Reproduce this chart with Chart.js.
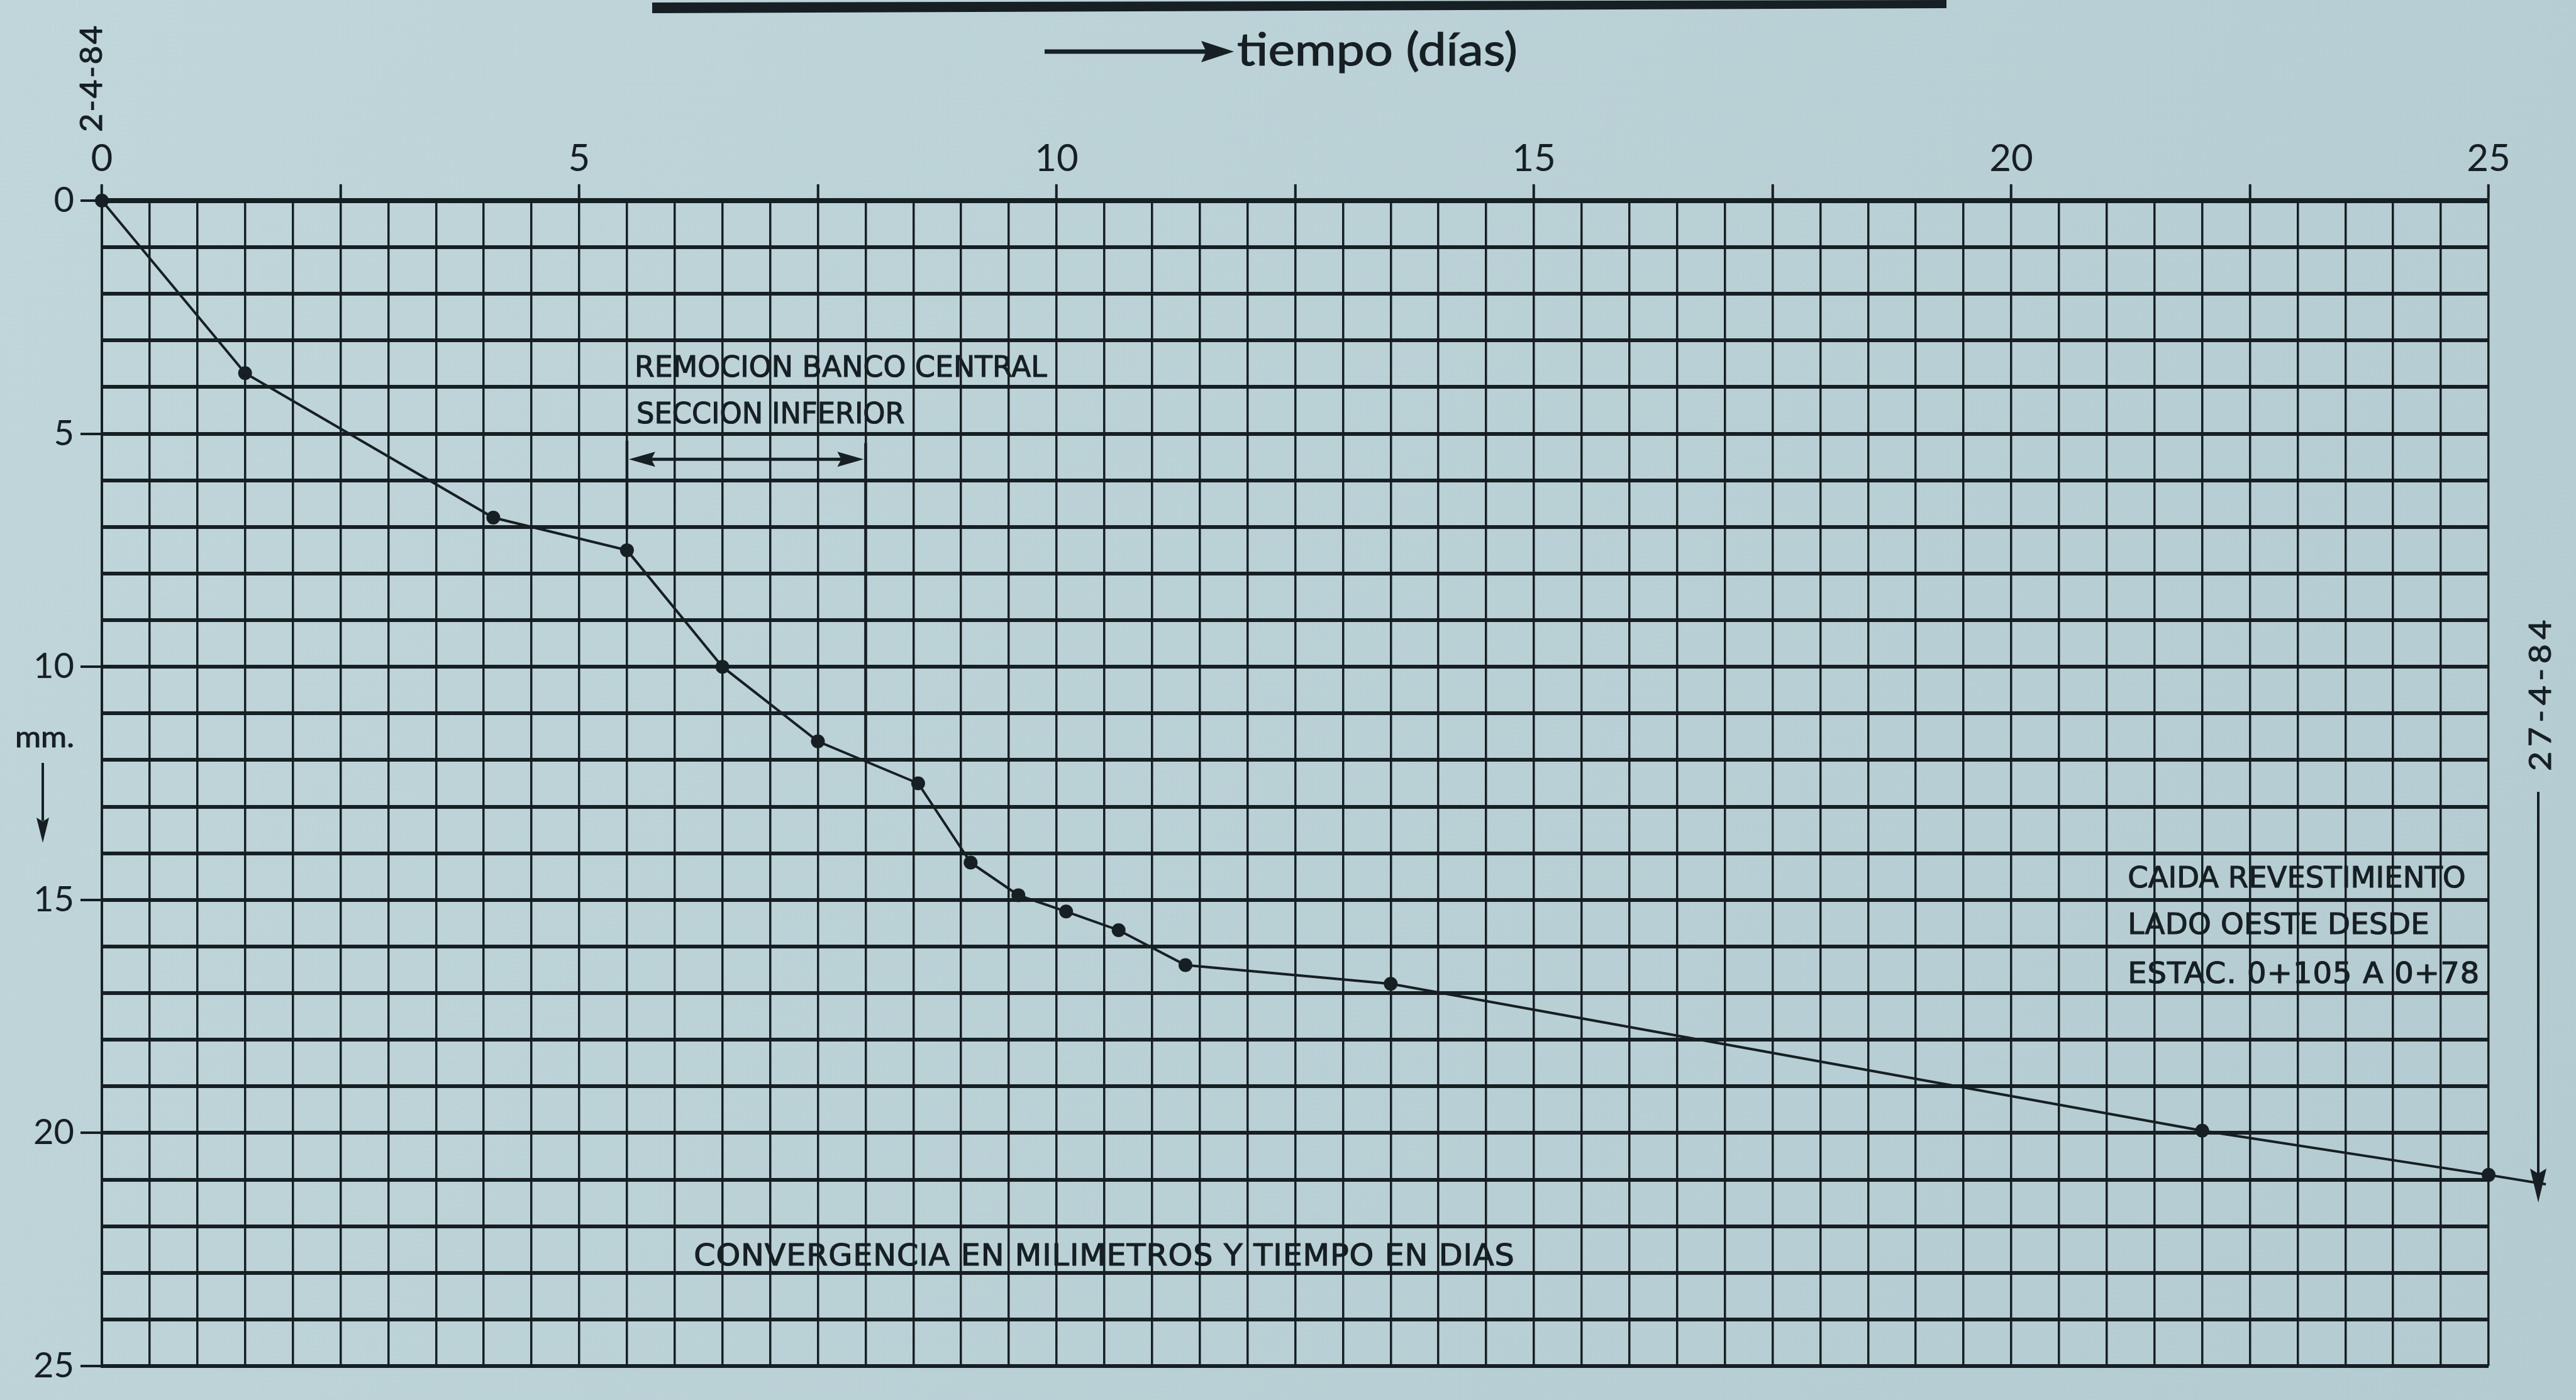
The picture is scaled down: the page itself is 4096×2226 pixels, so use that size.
<!DOCTYPE html>
<html>
<head>
<meta charset="utf-8">
<script src="https://cdn.jsdelivr.net/npm/chart.js@4.4.1/dist/chart.umd.min.js"></script>
<style>
html,body{margin:0;padding:0;background:#bad1d7;overflow:hidden}
canvas{display:block}
</style>
</head>
<body>
<canvas id="c" width="4096" height="2226" style="width:4096px;height:2226px"></canvas>
<script>
// ---------- data ----------
const days          = [0, 1.5, 4.1, 5.5, 6.5, 7.5, 8.55, 9.1, 9.6, 10.1, 10.65, 11.35, 13.5, 22.0, 25.0];
const convergenceMm = [0, 3.7, 6.8, 7.5, 10.0, 11.6, 12.5, 14.2, 14.9, 15.25, 15.65, 16.4, 16.8, 19.95, 20.9];
const extensionDays = [25.0, 25.6];
const extensionMm   = [20.9, 21.1];
const xTickValues = [0, 5, 10, 15, 20, 25];
const xTickLabels = ['0', '5', '10', '15', '20', '25'];
const yTickValues = [0, 5, 10, 15, 20, 25];
const yTickLabels = ['0', '5', '10', '15', '20', '25'];
const startDate = '2-4-84';
const endDate = '27-4-84';
const xTitle = 'tiempo (días)';
const yTitle = 'mm.';
const remocionNotes = ['REMOCION BANCO CENTRAL', 'SECCION INFERIOR'];
const remocionDays = [5.5, 8.0];
const caidaNotes = ['CAIDA REVESTIMIENTO', 'LADO OESTE DESDE', 'ESTAC. 0+105 A 0+78'];
const caption = 'CONVERGENCIA EN MILIMETROS Y TIEMPO EN DIAS';

// ---------- drawing ----------
const INK = '#161f23';
const LETTER = '"DejaVu Sans"';
const NUM = 'Lato';

function isMult(v, m) { return Math.abs(v / m - Math.round(v / m)) < 1e-6; }
function labelFor(v, vals, labs) { const k = vals.findIndex(t => Math.abs(t - v) < 1e-6); return k >= 0 ? labs[k] : ''; }
function interpMm(d) {
  for (let i = 0; i < days.length - 1; i++) {
    if (d >= days[i] && d <= days[i + 1]) {
      const t = (d - days[i]) / (days[i + 1] - days[i]);
      return convergenceMm[i] + t * (convergenceMm[i + 1] - convergenceMm[i]);
    }
  }
  return convergenceMm[convergenceMm.length - 1];
}
function fitText(c, text, x0, x1, yc, cap, family, stroke, spread) {
  const size = cap / 0.73;
  const target = x1 - x0;
  c.save();
  c.font = size + 'px ' + family;
  if ('letterSpacing' in c) c.letterSpacing = '0px';
  const w0 = c.measureText(text).width;
  let w = w0;
  if ('letterSpacing' in c && target > w0) {
    const ls = (spread === undefined ? 0.5 : spread) * (target - w0) / Math.max(1, text.length - 1);
    c.letterSpacing = ls.toFixed(2) + 'px';
    w = c.measureText(text).width;
  }
  c.translate(x0, yc + cap / 2);
  c.scale(target / w, 1);
  c.textAlign = 'left';
  c.textBaseline = 'alphabetic';
  c.fillText(text, 0, 0);
  if (stroke) { c.lineWidth = stroke; c.lineJoin = 'round'; c.strokeText(text, 0, 0); }
  c.restore();
}
function fitTextRot(c, text, cx, cy, len, cap, family, stroke, spread) {
  c.save();
  c.translate(cx, cy);
  c.rotate(-Math.PI / 2);
  fitText(c, text, -len / 2, len / 2, 0, cap, family, stroke, spread);
  c.restore();
}
function seg(c, x0, y0, x1, y1, w) {
  c.lineWidth = w; c.beginPath(); c.moveTo(x0, y0); c.lineTo(x1, y1); c.stroke();
}
function head(c, tx, ty, dx, dy, len, hw) {
  const px = -dy, py = dx;
  c.beginPath();
  c.moveTo(tx, ty);
  c.lineTo(tx - dx * len + px * hw, ty - dy * len + py * hw);
  c.lineTo(tx - dx * len * 0.85, ty - dy * len * 0.85);
  c.lineTo(tx - dx * len - px * hw, ty - dy * len - py * hw);
  c.closePath();
  c.fill();
}

const bgPlugin = {
  id: 'bg',
  beforeDraw(chart) {
    const c = chart.ctx;
    c.save();
    const g = c.createLinearGradient(0, 0, chart.width, chart.height);
    g.addColorStop(0, '#c0d6db');
    g.addColorStop(1, '#b4cbd1');
    c.fillStyle = g;
    c.fillRect(0, 0, chart.width, chart.height);
    c.restore();
  }
};

const notesPlugin = {
  id: 'notes',
  afterDatasetsDraw(chart) {
    const c = chart.ctx, xs = chart.scales.x, ys = chart.scales.y;
    const X = v => xs.getPixelForValue(v), Y = v => ys.getPixelForValue(v);
    c.save();
    c.fillStyle = INK; c.strokeStyle = INK; c.lineCap = 'butt';
    // removal annotation
    fitText(c, remocionNotes[0], X(5.58), X(9.9), Y(3.55), 34, LETTER, 1.2);
    fitText(c, remocionNotes[1], X(5.6), X(8.41), Y(4.55), 34, LETTER, 1.2);
    const a0 = remocionDays[0], a1 = remocionDays[1];
    seg(c, X(a0), Y(5.15), X(a0), Y(7.05), 4.5);
    seg(c, X(a1), Y(5.2), X(a1), Y(interpMm(a1)), 4.5);
    seg(c, X(a0) + 20, Y(5.55), X(a1) - 20, Y(5.55), 5);
    head(c, X(a0) + 3, Y(5.55), -1, 0, 42, 12);
    head(c, X(a1) - 3, Y(5.55), 1, 0, 42, 12);
    // lining fall annotation
    fitText(c, caidaNotes[0], X(21.22), X(24.76), Y(14.5), 34, LETTER, 1.2);
    fitText(c, caidaNotes[1], X(21.22), X(24.38), Y(15.5), 34, LETTER, 1.2);
    fitText(c, caidaNotes[2], X(21.22), X(24.91), Y(16.55), 34, LETTER, 1.2);
    // caption
    fitText(c, caption, X(6.2), X(14.8), Y(22.6), 35, LETTER, 1.2);
    c.restore();
  },
  afterDraw(chart) {
    const c = chart.ctx;
    c.save();
    c.fillStyle = INK; c.strokeStyle = INK;
    // heavy bar at the top of the sheet
    c.beginPath();
    c.moveTo(1037, 4); c.lineTo(3095, 0); c.lineTo(3095, 13); c.lineTo(1037, 21);
    c.closePath(); c.fill();
    // x title with arrow
    seg(c, 1661, 82, 1925, 82, 7);
    head(c, 1962, 82, 1, 0, 52, 17);
    c.font = '72px ' + NUM;
    const tw = c.measureText(xTitle).width;
    c.save(); c.translate(1967, 104); c.scale(446 / tw, 1); c.textBaseline = 'alphabetic';
    c.fillText(xTitle, 0, 0); c.lineWidth = 1.2; c.strokeText(xTitle, 0, 0); c.restore();
    // start date (rotated)
    fitTextRot(c, startDate, 144, 124, 172, 36, NUM, 1, 0.6);
    // end date (rotated) + arrow down
    fitTextRot(c, endDate, 4038, 1102, 248, 36, NUM, 1, 0.6);
    seg(c, 4036, 1259, 4036, 1870, 4);
    head(c, 4036, 1912, 0, 1, 54, 13);
    // y title + arrow
    c.font = '46px ' + NUM;
    const mw = c.measureText(yTitle).width;
    c.save(); c.translate(24, 1188); c.scale(94 / mw, 1); c.textBaseline = 'alphabetic';
    c.fillText(yTitle, 0, 0); c.lineWidth = 1; c.strokeText(yTitle, 0, 0); c.restore();
    seg(c, 68, 1213, 68, 1305, 4);
    head(c, 68, 1340, 0, 1, 40, 10);
    c.restore();
  }
};

const chart = new Chart(document.getElementById('c'), {
  type: 'line',
  data: {
    datasets: [
      {
        label: 'Convergencia',
        data: days.map((d, i) => ({ x: d, y: convergenceMm[i] })),
        borderColor: INK, borderWidth: 4,
        pointRadius: 11, pointHoverRadius: 11,
        pointBackgroundColor: INK, pointBorderColor: INK, pointBorderWidth: 0,
        tension: 0, fill: false, clip: false
      },
      {
        label: 'Extensión',
        data: extensionDays.map((d, i) => ({ x: d, y: extensionMm[i] })),
        borderColor: INK, borderWidth: 4,
        pointRadius: 0, tension: 0, fill: false, clip: false
      }
    ]
  },
  options: {
    responsive: false,
    animation: false,
    devicePixelRatio: 1,
    layout: { padding: { left: 0, top: 0, right: 139, bottom: 54 } },
    plugins: { legend: { display: false }, tooltip: { enabled: false } },
    scales: {
      x: {
        type: 'linear', position: 'top', min: 0, max: 25,
        ticks: {
          stepSize: 0.5, autoSkip: false, maxRotation: 0, minRotation: 0,
          color: INK, padding: 4, font: { family: NUM, size: 60 },
          callback: v => labelFor(v, xTickValues, xTickLabels)
        },
        grid: {
          color: INK, lineWidth: 3.5, tickLength: 26, tickWidth: 4,
          tickColor: ctx => (ctx.tick && isMult(ctx.tick.value, 2.5)) ? INK : 'rgba(0,0,0,0)'
        },
        border: { display: true, color: INK, width: 8 },
        afterFit: s => { s.height = 319; }
      },
      y: {
        type: 'linear', position: 'left', reverse: true, min: 0, max: 25,
        ticks: {
          stepSize: 1, autoSkip: false, color: INK, padding: 10,
          font: { family: NUM, size: 56 },
          callback: v => labelFor(v, yTickValues, yTickLabels)
        },
        grid: {
          color: INK, lineWidth: 6, tickLength: 34, tickWidth: 4,
          tickColor: ctx => (ctx.tick && isMult(ctx.tick.value, 5)) ? INK : 'rgba(0,0,0,0)'
        },
        border: { display: true, color: INK, width: 4 },
        afterFit: s => { s.width = 162; }
      }
    }
  },
  plugins: [bgPlugin, notesPlugin]
});
</script>
</body>
</html>
